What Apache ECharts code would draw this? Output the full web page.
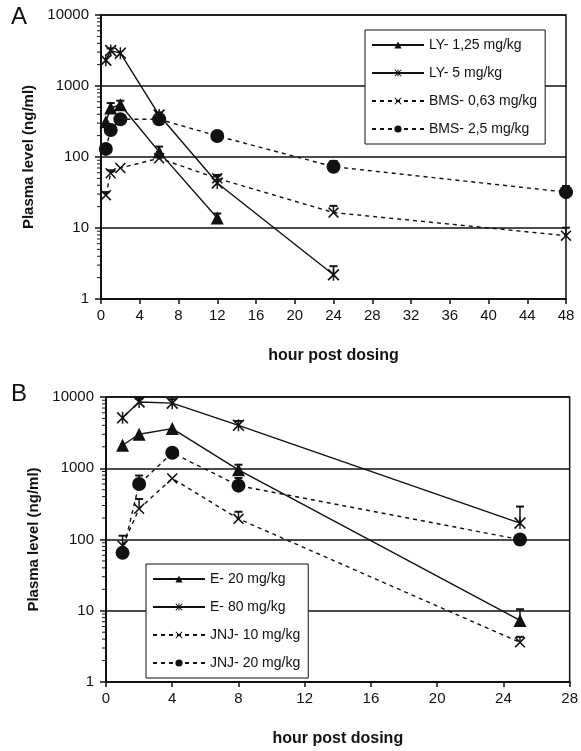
<!DOCTYPE html>
<html><head><meta charset="utf-8">
<script src="https://cdn.jsdelivr.net/npm/echarts@6/dist/echarts.min.js"></script>
<style>html,body{margin:0;padding:0;background:#fff}#c{width:581px;height:751px}</style>
</head><body><div id="c"></div>
<script>
// ---------- Panel A data ----------
const hoursA = [0.5, 1, 2, 6, 12, 24, 48];
const ly125 = [314, 490, 545, 118, 13.8, null, null];
const ly5 = [2300, 3150, 2900, 390, 43, 2.2, null];
const bms063 = [29, 59, 70, 96, 50, 16.5, 7.8];
const bms25 = [130, 240, 340, 340, 198, 73, 32];
// upper error-bar values
const ly125Err = [null, 575, 620, 140, 16, null, null];
const ly5Err = [null, 3400, null, 425, 56, 2.9, null];
const bms063Err = [32, 65, null, null, 55, 20.5, 10.1];
const bms25Err = [null, null, null, null, null, 88, 39];
const namesA = ['LY- 1,25 mg/kg', 'LY- 5 mg/kg', 'BMS- 0,63 mg/kg', 'BMS- 2,5 mg/kg'];
const xTicksA = {min: 0, max: 48, interval: 4};

// ---------- Panel B data ----------
const hoursB = [1, 2, 4, 8, 25];
const e20 = [2100, 3000, 3600, 950, 7.3];
const e80 = [5100, 8500, 8200, 4000, 170];
const jnj10 = [82, 270, 720, 195, 3.6];
const jnj20 = [65, 600, 1650, 570, 100];
const e20Err = [null, null, null, 1120, 10.5];
const e80Err = [null, 9500, 9300, 4600, 290];
const jnj10Err = [113, 370, null, 245, 4.3];
const jnj20Err = [null, 790, null, 730, null];
const namesB = ['E- 20 mg/kg', 'E- 80 mg/kg', 'JNJ- 10 mg/kg', 'JNJ- 20 mg/kg'];
const xTicksB = {min: 0, max: 28, interval: 4};

const yDecades = [1, 10, 100, 1000, 10000];
const minorMult = [2, 3, 4, 5, 6, 7, 8, 9];

const INK = '#111';
const FONT = 'Liberation Sans, Arial, sans-serif';
const X_PATH = 'path://M0,1 L1,0 L5,4 L9,0 L10,1 L6,5 L10,9 L9,10 L5,6 L1,10 L0,9 L4,5 Z';
const STAR_PATH = 'path://M0,1 L1,0 L5,4 L9,0 L10,1 L6,5 L10,9 L9,10 L5,6 L1,10 L0,9 L4,5 Z M4.4,0 L5.6,0 L5.6,10 L4.4,10 Z';

function pairs(xs, ys) {
  const out = [];
  xs.forEach((x, i) => { if (ys[i] != null) out.push([x, ys[i]]); });
  return out;
}
function errTriples(xs, ys, tops) {
  const out = [];
  xs.forEach((x, i) => { if (tops[i] != null && ys[i] != null) out.push([x, ys[i], tops[i]]); });
  return out;
}
function minorData() {
  const out = [];
  yDecades.slice(0, -1).forEach(d => minorMult.forEach(m => out.push([0, m * d])));
  return out;
}
function errRender(params, api) {
  const x = api.value(0), y = api.value(1), t = api.value(2);
  const p0 = api.coord([x, y]), p1 = api.coord([x, t]);
  return {type: 'group', children: [
    {type: 'line', shape: {x1: p0[0], y1: p0[1], x2: p1[0], y2: p1[1]}, style: {stroke: INK, lineWidth: 1.5}},
    {type: 'line', shape: {x1: p1[0] - 4, y1: p1[1], x2: p1[0] + 4, y2: p1[1]}, style: {stroke: INK, lineWidth: 2}}
  ]};
}
function minorRender(params, api) {
  const p = api.coord([api.value(0), api.value(1)]);
  return {type: 'line', shape: {x1: p[0] - 4, y1: p[1], x2: p[0], y2: p[1]}, style: {stroke: INK, lineWidth: 1}};
}

function lineSeries(name, idx, xs, ys, symbol, size, dashed) {
  return {
    type: 'line', name, xAxisIndex: idx, yAxisIndex: idx,
    data: pairs(xs, ys), symbol, symbolSize: size,
    lineStyle: {color: INK, width: 1.4, type: dashed ? [4, 4] : 'solid'},
    itemStyle: {color: INK}, z: 3
  };
}
function errSeries(idx, xs, ys, tops) {
  return {type: 'custom', xAxisIndex: idx, yAxisIndex: idx, data: errTriples(xs, ys, tops),
    renderItem: errRender, z: 4, silent: true};
}

function xAxisCfg(idx, ticks) {
  return {
    type: 'value', gridIndex: idx, min: ticks.min, max: ticks.max, interval: ticks.interval,
    name: 'hour post dosing', nameLocation: 'middle', nameGap: 49,
    nameTextStyle: {fontFamily: FONT, fontWeight: 'bold', fontSize: 16, color: INK},
    axisLine: {lineStyle: {color: INK, width: 2}},
    axisTick: {inside: false, length: 5, lineStyle: {color: INK, width: 1.5}},
    axisLabel: {fontFamily: FONT, fontSize: 15, color: INK, margin: 9},
    splitLine: {show: false}
  };
}
function yAxisCfg(idx) {
  return {
    type: 'log', logBase: 10, gridIndex: idx, min: 1, max: 10000,
    name: 'Plasma level (ng/ml)', nameLocation: 'middle', nameGap: 60, nameRotate: 90,
    nameTextStyle: {fontFamily: FONT, fontWeight: 'bold', fontSize: 15, color: INK},
    axisLine: {lineStyle: {color: INK, width: 2}},
    axisTick: {inside: false, length: 6, lineStyle: {color: INK, width: 1.5}},
    axisLabel: {fontFamily: FONT, fontSize: 15, color: INK, margin: 12, formatter: v => String(v)},
    splitLine: {show: true, lineStyle: {color: INK, width: 1.5}}
  };
}
function legendCfg(names, left, top) {
  return {
    data: names, orient: 'vertical', left, top, selectedMode: false,
    itemWidth: 52, itemHeight: 9, itemGap: 14, padding: [8, 8, 8, 6],
    borderColor: INK, borderWidth: 1, backgroundColor: '#fff',
    textStyle: {fontFamily: FONT, fontSize: 14, color: INK}
  };
}

const option = {
  animation: false,
  backgroundColor: '#fff',
  grid: [
    {left: 101, top: 15, width: 465, height: 284, show: true, borderColor: INK, borderWidth: 1.5},
    {left: 106, top: 397, width: 466, height: 285, show: true, borderColor: INK, borderWidth: 1.5}
  ],
  xAxis: [xAxisCfg(0, xTicksA), xAxisCfg(1, xTicksB)],
  yAxis: [yAxisCfg(0), yAxisCfg(1)],
  legend: [legendCfg(namesA, 365, 30), legendCfg(namesB, 146, 564)],
  graphic: [
    {type: 'text', left: 11, top: 5, style: {text: 'A', font: '24px ' + FONT, fill: INK}},
    {type: 'text', left: 11, top: 382, style: {text: 'B', font: '24px ' + FONT, fill: INK}}
  ],
  series: [
    lineSeries(namesA[0], 0, hoursA, ly125, 'triangle', 13, false),
    lineSeries(namesA[1], 0, hoursA, ly5, STAR_PATH, 12, false),
    lineSeries(namesA[2], 0, hoursA, bms063, X_PATH, 11, true),
    lineSeries(namesA[3], 0, hoursA, bms25, 'circle', 14, true),
    errSeries(0, hoursA, ly125, ly125Err),
    errSeries(0, hoursA, ly5, ly5Err),
    errSeries(0, hoursA, bms063, bms063Err),
    errSeries(0, hoursA, bms25, bms25Err),
    {type: 'custom', xAxisIndex: 0, yAxisIndex: 0, data: minorData(), renderItem: minorRender, clip: false, silent: true},
    lineSeries(namesB[0], 1, hoursB, e20, 'triangle', 13, false),
    lineSeries(namesB[1], 1, hoursB, e80, STAR_PATH, 12, false),
    lineSeries(namesB[2], 1, hoursB, jnj10, X_PATH, 11, true),
    lineSeries(namesB[3], 1, hoursB, jnj20, 'circle', 14, true),
    errSeries(1, hoursB, e20, e20Err),
    errSeries(1, hoursB, e80, e80Err),
    errSeries(1, hoursB, jnj10, jnj10Err),
    errSeries(1, hoursB, jnj20, jnj20Err),
    {type: 'custom', xAxisIndex: 1, yAxisIndex: 1, data: minorData(), renderItem: minorRender, clip: false, silent: true}
  ]
};
const chart = echarts.init(document.getElementById('c'), null, {renderer: 'canvas'});
chart.setOption(option);
</script></body></html>
